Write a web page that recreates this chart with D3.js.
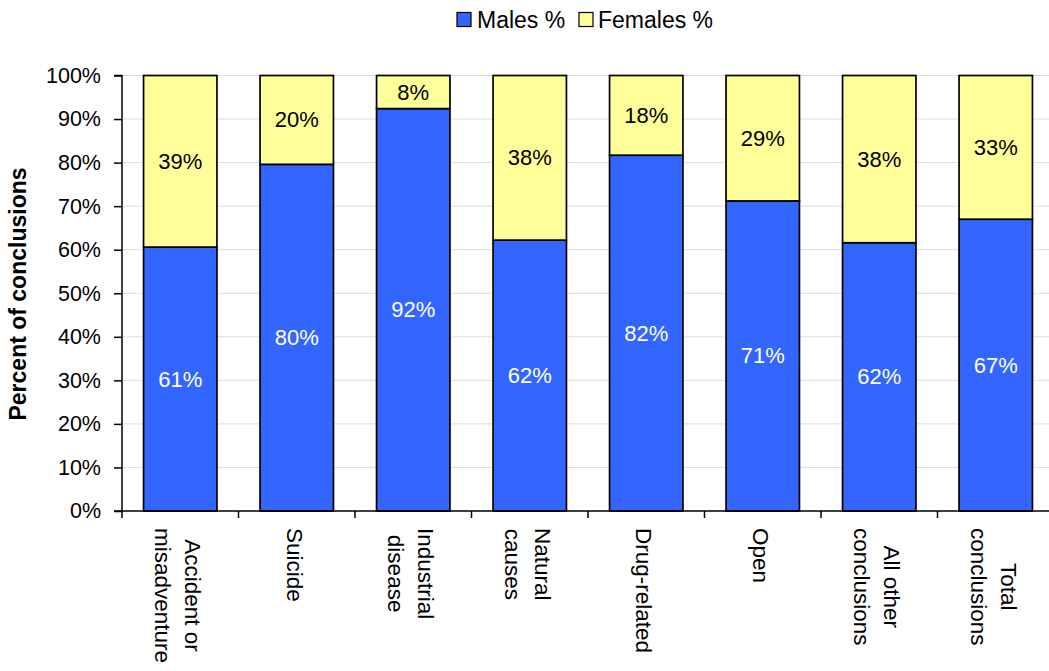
<!DOCTYPE html>
<html>
<head>
<meta charset="utf-8">
<script src="https://cdn.jsdelivr.net/npm/d3@7"></script>
<style>
  html, body { margin: 0; padding: 0; background: #fff; }
  svg { display: block; font-family: "Liberation Sans", Arial, sans-serif; }
</style>
</head>
<body>
<svg id="chart" width="1049" height="671"></svg>
<script>
const categories = [
  ["Accident or", "misadventure"],
  ["Suicide"],
  ["Industrial", "disease"],
  ["Natural", "causes"],
  ["Drug-related"],
  ["Open"],
  ["All other", "conclusions"],
  ["Total", "conclusions"]
];
const malesPct   = [60.6, 79.6, 92.4, 62.2, 81.7, 71.2, 61.6, 67.0];
const femalesPct = [39.4, 20.4, 7.6, 37.8, 18.3, 28.8, 38.4, 33.0];
const yTicks = [0, 10, 20, 30, 40, 50, 60, 70, 80, 90, 100];
const seriesNames = ["Males %", "Females %"];
const colors = ["#3366FF", "#FFFF99"];

(function () {
const svg = d3.select("#chart");
const pL = 122, pR = 1054, pT = 75.5, pB = 511;

const x = d3.scaleBand().domain(d3.range(categories.length)).range([pL, pR]).paddingInner(0.37).paddingOuter(0.185);
const xb = d3.scaleLinear().domain([0, categories.length]).range([pL, pR]);
const y = d3.scaleLinear().domain([0, 100]).range([pB, pT]);

// gridlines
svg.append("g").selectAll("line").data(yTicks.filter(d => d > 0)).join("line")
  .attr("x1", pL).attr("x2", 1049)
  .attr("y1", d => y(d)).attr("y2", d => y(d))
  .attr("stroke", "#dcdcdc").attr("stroke-width", 1);

// bars
const stackData = categories.map((c, i) => ({ i, m: malesPct[i], f: femalesPct[i] }));
const stack = d3.stack().keys(["m", "f"])(stackData);
const layers = svg.append("g").selectAll("g").data(stack).join("g")
  .attr("fill", (d, k) => colors[k]);
layers.selectAll("rect").data(d => d).join("rect")
  .attr("x", d => x(d.data.i))
  .attr("width", x.bandwidth())
  .attr("y", d => y(d[1]))
  .attr("height", d => y(d[0]) - y(d[1]))
  .attr("stroke", "#000").attr("stroke-width", 1.7);

// data labels
layers.each(function (layer) {
  d3.select(this).selectAll("text").data(layer).join("text")
    .attr("x", d => x(d.data.i) + x.bandwidth() / 2)
    .attr("y", d => (y(d[0]) + y(d[1])) / 2)
    .attr("text-anchor", "middle").attr("dominant-baseline", "central")
    .attr("font-size", 22)
    .attr("fill", layer.key === "m" ? "#fff" : "#000")
    .text(d => Math.round(d[1] - d[0]) + "%");
});

// y axis
const yAxis = d3.axisLeft(y).tickValues(yTicks).tickSize(8).tickPadding(13).tickFormat(d => d + "%");
const gy = svg.append("g").attr("transform", `translate(${pL},0)`).call(yAxis);
gy.select(".domain").attr("stroke", "#000").attr("stroke-width", 1.5).attr("d", `M-8,${pT}H0V${pB}H-8`);
gy.selectAll(".tick line").attr("stroke", "#000").attr("stroke-width", 1.5);
gy.selectAll(".tick text").attr("font-size", 21.5).attr("fill", "#000").attr("font-family", "Liberation Sans, Arial, sans-serif");

// x axis line and ticks
svg.append("line").attr("x1", pL).attr("x2", 1049).attr("y1", pB).attr("y2", pB)
  .attr("stroke", "#000").attr("stroke-width", 1.5);
svg.append("g").selectAll("line").data(d3.range(categories.length + 1)).join("line")
  .attr("x1", d => xb(d)).attr("x2", d => xb(d))
  .attr("y1", pB).attr("y2", pB + 7)
  .attr("stroke", "#000").attr("stroke-width", 1.5);

// category labels (rotated 90deg clockwise)
const lh = 30;
const catG = svg.append("g").selectAll("g").data(categories).join("g")
  .attr("transform", (d, i) => `translate(${x(i) + x.bandwidth() / 2},528) rotate(90)`)
  .attr("font-size", 22.5);
catG.each(function (lines) {
  const g = d3.select(this);
  const texts = g.selectAll("text").data(lines).join("text")
    .attr("dominant-baseline", "central")
    .attr("text-anchor", "middle")
    .attr("fill", "#000")
    .text(d => d);
  let maxW = 0;
  texts.each(function () { maxW = Math.max(maxW, this.getComputedTextLength()); });
  const n = lines.length;
  texts.attr("x", maxW / 2)
    .attr("y", (d, j) => (j - (n - 1) / 2) * lh + 2.5);
});

// y axis title
svg.append("text")
  .attr("transform", `translate(18,294) rotate(-90)`)
  .attr("text-anchor", "middle").attr("dominant-baseline", "central")
  .attr("font-size", 23).attr("font-weight", "bold")
  .text("Percent of conclusions");

// legend
const legendItems = [{ x: 457, tx: 477 }, { x: 579, tx: 598 }];
const lg = svg.append("g").selectAll("g").data(seriesNames).join("g");
lg.append("rect")
  .attr("x", (d, i) => legendItems[i].x).attr("y", 12.5)
  .attr("width", 14).attr("height", 14)
  .attr("fill", (d, i) => colors[i]).attr("stroke", "#000").attr("stroke-width", 1.2);
lg.append("text")
  .attr("x", (d, i) => legendItems[i].tx).attr("y", 20)
  .attr("dominant-baseline", "central").attr("font-size", 23)
  .text(d => d);
})();
</script>
</body>
</html>
